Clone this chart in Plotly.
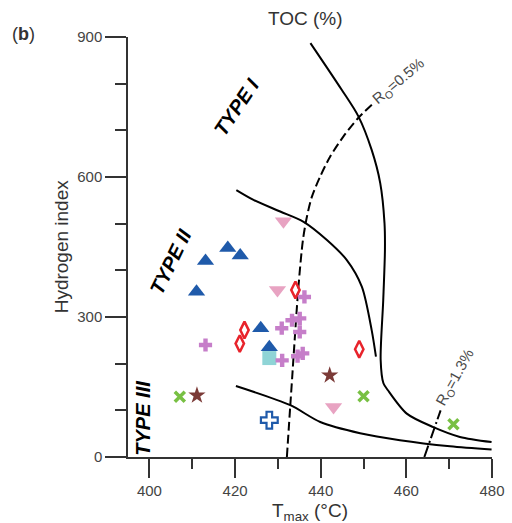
import plotly.graph_objects as go

# ---- Rock-Eval samples: Tmax (°C) vs Hydrogen index (mg HC/g TOC) ----
blue_tri_tmax = [413.1, 418.3, 421.2, 411.0, 426.0, 428.0]
blue_tri_hi = [420, 448, 432, 354, 276, 235]

pink_tri_tmax = [431.3, 429.9, 443.0]
pink_tri_hi = [505, 358, 107]

red_dia_tmax = [434.1, 422.2, 421.1, 449.0]
red_dia_hi = [358, 272, 243, 231]

cyan_sq_tmax = [428.0]
cyan_sq_hi = [212]

plus_tmax = [413.1, 436.2, 433.3, 435.1, 430.9, 435.1, 435.8, 434.6, 431.0]
plus_hi = [240, 343, 293, 297, 276, 268, 222, 216, 207]

green_x_tmax = [407.1, 450.0, 471.0]
green_x_hi = [129, 130, 70]

star_tmax = [411.1, 442.1]
star_hi = [132, 175]

open_cross_tmax = [428.0]
open_cross_hi = [79]

# ---- Kerogen type boundaries and maturity lines ----
toc_curve_tmax = [437.6, 444.9, 448.8, 451.9, 453.9, 454.9, 455.0, 454.6, 454.0,
                  454.65, 455.7, 460.1, 466.3, 472.5, 479.9]
toc_curve_hi = [887, 787, 730, 658, 587, 501, 444, 336, 208, 158, 143, 93, 64, 43, 32]

type2_curve_tmax = [420.3, 424.3, 430.55, 436.0, 441.45, 446.1, 449.6, 451.9, 452.9]
type2_curve_hi = [572, 551, 526, 504, 465, 422, 365, 272, 215]

type3_curve_tmax = [420.2, 432.9, 439.9, 449.2, 458.5, 470.2, 479.9]
type3_curve_hi = [152, 111, 75, 51, 36, 23, 16]

ro05_tmax = [432.1, 432.9, 433.3, 434.8, 435.85, 436.78, 437.95, 439.88, 442.22,
             445.32, 448.82, 451.94]
ro05_hi = [0, 111, 165, 365, 465, 515, 558, 601, 644, 687, 727, 755]

ro13_tmax = [464.2, 468.0]
ro13_hi = [0, 100]

FONT = "Liberation Sans, Arial, sans-serif"
INK = "#333333"

fig = go.Figure()

# boundary curves
for xs, ys in [(toc_curve_tmax, toc_curve_hi),
               (type2_curve_tmax, type2_curve_hi),
               (type3_curve_tmax, type3_curve_hi)]:
    fig.add_trace(go.Scatter(x=xs, y=ys, mode="lines",
                             line=dict(color="black", width=2, shape="spline", smoothing=0.8),
                             hoverinfo="skip", showlegend=False))

fig.add_trace(go.Scatter(x=ro05_tmax, y=ro05_hi, mode="lines",
                         line=dict(color="black", width=2, dash="9px,4px",
                                   shape="spline", smoothing=0.8),
                         hoverinfo="skip", showlegend=False))
fig.add_trace(go.Scatter(x=ro13_tmax, y=ro13_hi, mode="lines",
                         line=dict(color="black", width=2, dash="12px,3px,2px,3px"),
                         hoverinfo="skip", showlegend=False))

# sample markers
def pts(xs, ys, **marker):
    fig.add_trace(go.Scatter(x=xs, y=ys, mode="markers", marker=marker,
                             showlegend=False, cliponaxis=False))

pts(blue_tri_tmax, blue_tri_hi, symbol="triangle-up", size=15, color="#1f5aaa",
    line=dict(width=0))
pts(pink_tri_tmax, pink_tri_hi, symbol="triangle-down", size=15, color="#e8a3c2",
    line=dict(width=0))
pts(cyan_sq_tmax, cyan_sq_hi, symbol="square", size=14, color="#8fd4d6",
    line=dict(width=0))
pts(red_dia_tmax, red_dia_hi, symbol="diamond-tall-open", size=12,
    color="#e8232b", line=dict(width=2.5, color="#e8232b"))
pts(plus_tmax, plus_hi, symbol="cross", size=11, color="#c67ec9", line=dict(width=0))
pts(green_x_tmax, green_x_hi, symbol="x-thin-open", size=10,
    color="#78c043", line=dict(width=3.5, color="#78c043"))
pts(star_tmax, star_hi, symbol="star", size=13, color="#7b3a37", line=dict(width=0))
pts(open_cross_tmax, open_cross_hi, symbol="cross-open", size=14,
    color="#1f5aaa", line=dict(width=2.2, color="#1f5aaa"))

# region and maturity labels
type_font = dict(family=FONT, size=20, color="black", weight="bold", style="italic")
fig.add_annotation(x=420.3, y=751, text="TYPE I", textangle=-56,
                   showarrow=False, font=type_font)
fig.add_annotation(x=404.9, y=418, text="TYPE II", textangle=-64,
                   showarrow=False, font=type_font)
fig.add_annotation(x=398.6, y=83, text="TYPE III", textangle=-90,
                   showarrow=False, font=type_font)

ro_font = dict(family=FONT, size=15, color="#4a4a4a")
fig.add_annotation(x=458.2, y=804, text="R<sub>O</sub>=0.5%", textangle=-40,
                   showarrow=False, font=ro_font)
fig.add_annotation(x=471.4, y=171, text="R<sub>O</sub>=1.3%", textangle=-61,
                   showarrow=False, font=ro_font)

# titles
def paper_text(x, y, text, size, angle=0):
    fig.add_annotation(xref="paper", yref="paper", x=x, y=y, text=text,
                       textangle=angle, showarrow=False,
                       xanchor="center", yanchor="middle",
                       font=dict(family=FONT, size=size, color=INK))

paper_text(0.489, 1.045, "TOC (%)", 19)
paper_text(-0.288, 1.007, "(<b>b</b>)", 18)
paper_text(-0.182, 0.501, "Hydrogen index", 19, angle=-90)
paper_text(0.5, -0.13, "T<sub>max</sub> (°C)", 19)

axis_common = dict(showgrid=False, zeroline=False, showline=True,
                   linecolor=INK, linewidth=1.5, ticks="outside",
                   tickcolor=INK, tickwidth=1.5, automargin=False,
                   tickfont=dict(family=FONT, size=15, color="#444444"))

fig.update_xaxes(range=[395, 480], tick0=400, dtick=20, ticklen=19,
                 minor=dict(dtick=10, tick0=400, ticks="outside", ticklen=10,
                            tickcolor=INK, tickwidth=1.5),
                 **axis_common)
fig.update_yaxes(range=[0, 900], tick0=0, dtick=300, ticklen=21,
                 minor=dict(dtick=100, tick0=0, ticks="outside", ticklen=11,
                            tickcolor=INK, tickwidth=1.5),
                 **axis_common)

fig.update_layout(width=512, height=523,
                  margin=dict(l=128, r=20, t=37, b=66),
                  paper_bgcolor="white", plot_bgcolor="white",
                  font=dict(family=FONT))

fig.write_html("out.html")
